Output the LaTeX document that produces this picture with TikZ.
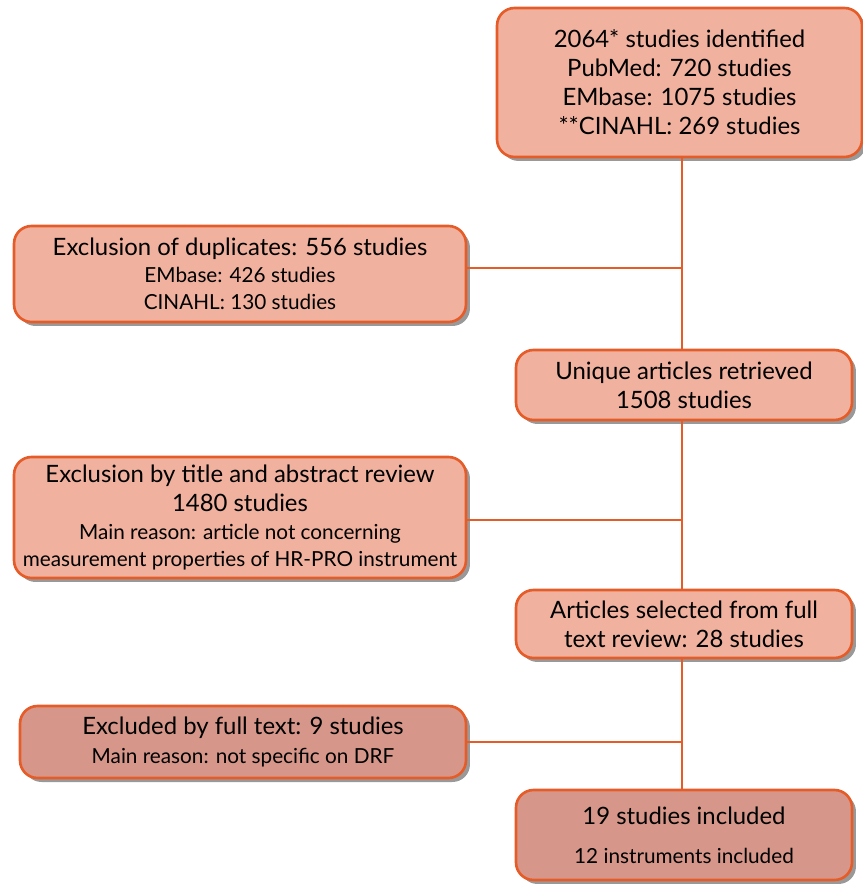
\documentclass[tikz,border=0pt]{standalone}
\usepackage{fontspec}
\setmainfont{Lato}
\usetikzlibrary{shadows}
\definecolor{boxline}{RGB}{230,92,40}
\definecolor{boxfill}{RGB}{240,177,159}
\definecolor{boxdark}{RGB}{214,151,138}
\newcommand{\bigtxt}{\fontsize{13.6}{16.5}\selectfont}
\newcommand{\smalltxt}{\fontsize{11.8}{15.5}\selectfont}
\tikzset{
  flowbox/.style={draw=boxline, line width=1.5pt, fill=boxfill, rounded corners=0.35cm,
    align=center, inner sep=0pt, font=\bigtxt,
    drop shadow={shadow xshift=0.08cm, shadow yshift=-0.08cm, fill=black!40, opacity=1}},
  darkbox/.style={flowbox, fill=boxdark},
  link/.style={draw=boxline, line width=1.5pt}
}
\begin{document}
\begin{tikzpicture}[x=0.02cm,y=-0.02cm]
  \useasboundingbox (0,0) rectangle (862,884);
  % boxes
  \node[flowbox, minimum width=7.3cm, minimum height=2.98cm] (ident) at (679.5,82.5)
    {2064* studies identified\\ PubMed: 720 studies\\ EMbase: 1075 studies\\ **CINAHL: 269 studies};
  \node[flowbox, minimum width=9.04cm, minimum height=1.92cm] (dupl) at (240,274)
    {Exclusion of duplicates: 556 studies\\[-1pt] {\smalltxt EMbase: 426 studies}\\[-1pt] {\smalltxt CINAHL: 130 studies}};
  \node[flowbox, minimum width=6.72cm, minimum height=1.4cm] (uniq) at (684,385)
    {Unique articles retrieved\\ 1508 studies};
  \node[flowbox, minimum width=9.04cm, minimum height=2.42cm] (title) at (240,517.5)
    {Exclusion by title and abstract review\\ 1480 studies\\[-1pt] {\smalltxt Main reason: article not concerning}\\[-1pt] {\smalltxt measurement properties of HR-PRO instrument}};
  \node[flowbox, minimum width=6.72cm, minimum height=1.36cm] (sel) at (684,624)
    {Articles selected from full\\ text review: 28 studies};
  \node[darkbox, minimum width=8.92cm, minimum height=1.44cm] (full) at (243,742)
    {Excluded by full text: 9 studies\\ {\smalltxt Main reason: not specific on DRF}};
  \node[darkbox, minimum width=6.72cm, minimum height=1.8cm] (incl) at (684,835)
    {19 studies included\\[0.2cm] {\smalltxt 12 instruments included}};
  % trunk and branches
  \coordinate (top) at (682,157);
  \coordinate (bot) at (682,790);
  \draw[link] (top) -- (uniq.north -| top);
  \draw[link] (uniq.south -| top) -- (sel.north -| top);
  \draw[link] (sel.south -| top) -- (bot);
  \draw[link] ([yshift=0.12cm]dupl.east) -- ([yshift=0.12cm]dupl.east -| top);
  \draw[link] ([yshift=-0.05cm]title.east) -- ([yshift=-0.05cm]title.east -| top);
  \draw[link] (full.east) -- (full.east -| top);
\end{tikzpicture}
\end{document}
